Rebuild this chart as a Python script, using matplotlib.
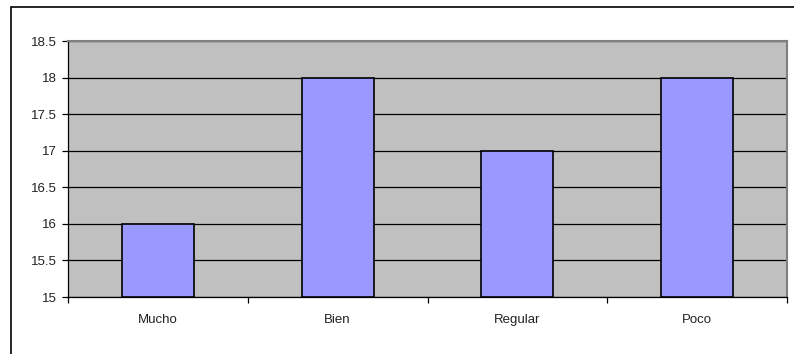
import matplotlib.pyplot as plt
from matplotlib.patches import Rectangle

categories = ["Mucho", "Bien", "Regular", "Poco"]
values = [16, 18, 17, 18]
y_ticks = [15, 15.5, 16, 16.5, 17, 17.5, 18, 18.5]
y_labels = ["15", "15.5", "16", "16.5", "17", "17.5", "18", "18.5"]

plt.rcParams['font.family'] = ['Liberation Sans', 'DejaVu Sans']

W, H = 794, 354
fig = plt.figure(figsize=(W / 100, H / 100), dpi=100)

# outer chart frame (right and bottom run off the image)
fig.patches.append(Rectangle((11 / W, -0.1), 1.2, 1 - 7.5 / H + 0.1,
                             transform=fig.transFigure, fill=False,
                             edgecolor='black', linewidth=1.2))

left, right, top, bottom = 68, 787, 41, 297
ax = fig.add_axes([left / W, 1 - bottom / H, (right - left) / W, (bottom - top) / H])
ax.set_facecolor('#C0C0C0')

x = range(len(categories))
base = y_ticks[0]
ax.bar(x, [v - base for v in values], bottom=base, width=0.4,
       color='#9999FF', edgecolor='black', linewidth=1.2, zorder=3)

ax.set_xlim(-0.5, len(categories) - 0.5)
ax.set_ylim(y_ticks[0], y_ticks[-1])
ax.set_yticks(y_ticks)
ax.set_yticklabels(y_labels)
ax.yaxis.grid(True, color='black', linewidth=0.9, zorder=1)
ax.set_axisbelow(True)

ax.set_xticks(list(x))
ax.set_xticklabels(categories)
ax.tick_params(axis='x', length=0, pad=12.5, labelsize=9.5, labelcolor='#222222')
ax.tick_params(axis='y', length=4, width=0.9, pad=4, labelsize=9.5, labelcolor='#222222')
ax.set_xticks([i - 0.5 for i in range(len(categories) + 1)], minor=True)
ax.tick_params(axis='x', which='minor', length=4, width=0.9)

for s in ['top', 'right']:
    ax.spines[s].set_color('#808080')
    ax.spines[s].set_linewidth(1.5)
for s in ['left', 'bottom']:
    ax.spines[s].set_color('black')
    ax.spines[s].set_linewidth(0.9)

fig.savefig('out.png', dpi=100)
